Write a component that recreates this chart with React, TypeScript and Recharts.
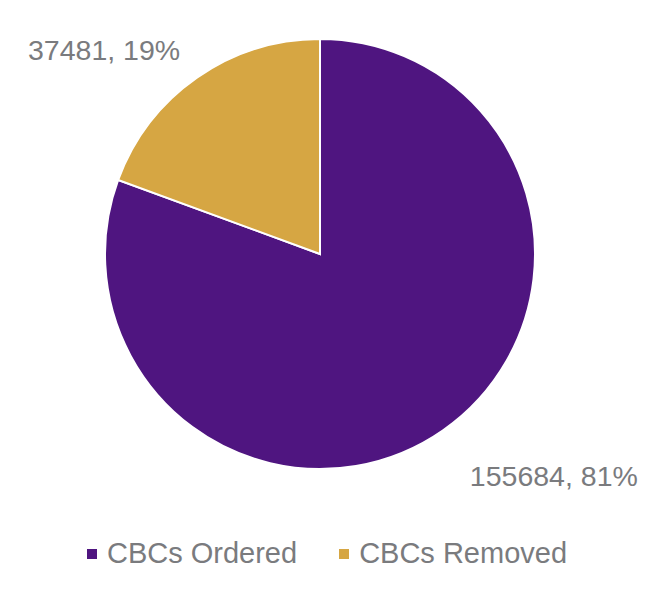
import React from 'react';
import { PieChart, Pie, Cell, Legend } from 'recharts';

const categories = ['CBCs Ordered', 'CBCs Removed'];
const counts = [155684, 37481];
const colors = ['#4F1580', '#D6A643'];

const data = categories.map((name, i) => ({ name, value: counts[i] }));
const total = counts.reduce((a, b) => a + b, 0);

const RAD = Math.PI / 180;
const FONT = "'Liberation Sans', Arial, sans-serif";

const renderLabel = (props: any) => {
  const { cx, cy, midAngle, outerRadius, value } = props;
  const cos = Math.cos(-midAngle * RAD);
  const sin = Math.sin(-midAngle * RAD);
  // Excel-style outside labels, nudged a little down/right
  const x = cx + cos * (outerRadius + 38) + 5;
  const y = cy + sin * (outerRadius + 45) + 9;
  const pct = Math.round((value / total) * 100);
  return (
    <text
      x={x}
      y={y}
      fill="#7a7b7e"
      fontSize={28.5}
      fontFamily={FONT}
      textAnchor={cos >= 0 ? 'start' : 'end'}
      dominantBaseline="central"
    >
      {`${value}, ${pct}%`}
    </text>
  );
};

const renderLegend = () => (
  <div
    style={{
      display: 'flex',
      justifyContent: 'center',
      fontFamily: FONT,
      fontSize: 29,
      color: '#7a7b7e',
      marginLeft: -8,
    }}
  >
    {categories.map((c, i) => (
      <div key={c} style={{ display: 'flex', alignItems: 'center', marginRight: i === 0 ? 42 : 0 }}>
        <span style={{ width: 10, height: 10, background: colors[i], marginRight: 10, display: 'inline-block' }} />
        <span>{c}</span>
      </div>
    ))}
  </div>
);

export default function App() {
  return (
    <div style={{ position: 'absolute', left: 0, top: 0, background: '#fff' }}>
      <PieChart width={662} height={592}>
        <Pie
          data={data}
          dataKey="value"
          nameKey="name"
          cx={315}
          cy={249}
          outerRadius={215}
          startAngle={90}
          endAngle={-270}
          stroke="#ffffff"
          strokeWidth={2}
          label={renderLabel}
          labelLine={false}
          isAnimationActive={false}
        >
          {data.map((d, i) => (
            <Cell key={d.name} fill={colors[i]} />
          ))}
        </Pie>
        <Legend content={renderLegend} wrapperStyle={{ top: 537, left: 0, width: 662 }} />
      </PieChart>
    </div>
  );
}
